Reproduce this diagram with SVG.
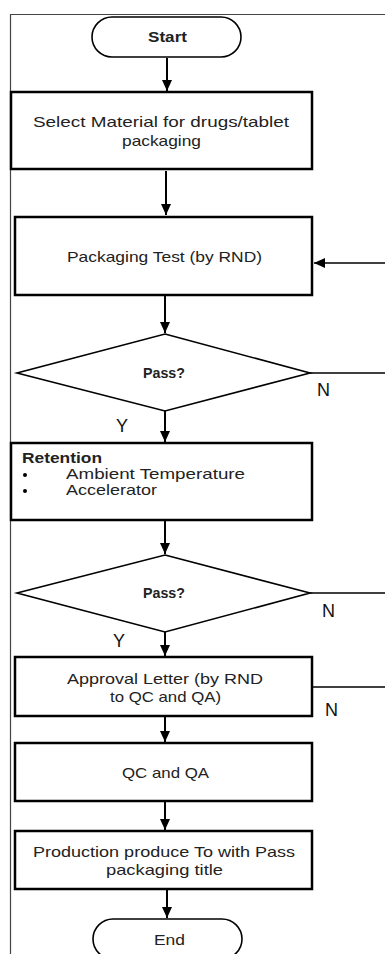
<svg xmlns="http://www.w3.org/2000/svg" width="385" height="954" viewBox="0 0 385 954">
<defs>
<marker id="ah" markerUnits="userSpaceOnUse" markerWidth="12" markerHeight="10" refX="11" refY="5" orient="auto">
<path d="M0,0 L11,5 L0,10 Z" fill="#000"/>
</marker>
<style>
.box{fill:#fff;stroke:#000;stroke-width:2.5}
.dia{fill:#fff;stroke:#000;stroke-width:1.6}
.term{fill:#fff;stroke:#000;stroke-width:1.6}
.t{font-family:"Liberation Sans",Arial,sans-serif;font-size:15px;fill:#222;text-anchor:middle}
.b{font-weight:bold}
.s{text-anchor:start}
.lbl{font-family:"Liberation Sans",Arial,sans-serif;font-size:18px;fill:#111}
.c{stroke:#000;stroke-width:2;fill:none}
.f{stroke:#000;stroke-width:1.3;fill:none}
</style>
</defs>
<rect width="385" height="954" fill="#fff"/>
<g id="frame">
<path d="M10.5,954 L10.5,14.5 L385,14.5" fill="none" stroke="#444" stroke-width="1.2"/>
</g>
<g id="connectors">
<line class="c" x1="167" y1="58" x2="167" y2="91" marker-end="url(#ah)"/>
<line class="c" x1="166" y1="171" x2="166" y2="215" marker-end="url(#ah)"/>
<line class="c" x1="165" y1="296" x2="165" y2="333" marker-end="url(#ah)"/>
<line class="c" x1="165" y1="411" x2="165" y2="442" marker-end="url(#ah)"/>
<line class="c" x1="165" y1="521" x2="165" y2="554" marker-end="url(#ah)"/>
<line class="c" x1="165" y1="632" x2="165" y2="656" marker-end="url(#ah)"/>
<line class="c" x1="165" y1="717" x2="165" y2="742" marker-end="url(#ah)"/>
<line class="c" x1="165" y1="802" x2="165" y2="830" marker-end="url(#ah)"/>
<line class="c" x1="167" y1="890" x2="167" y2="918" marker-end="url(#ah)"/>
<line class="f" x1="385" y1="263" x2="314" y2="263" marker-end="url(#ah)"/>
<line class="f" x1="310" y1="373" x2="385" y2="373"/>
<line class="f" x1="310" y1="593" x2="385" y2="593"/>
<line class="f" x1="313" y1="687" x2="385" y2="687"/>
<text class="lbl" x="317" y="396">N</text>
<text class="lbl" x="116" y="432">Y</text>
<text class="lbl" x="322" y="617">N</text>
<text class="lbl" x="113" y="647">Y</text>
<text class="lbl" x="325" y="716">N</text>
</g>
<g id="start">
<rect class="term" x="92" y="17" width="149" height="40" rx="20" ry="20"/>
<text class="t b" x="167.5" y="42" textLength="39" lengthAdjust="spacingAndGlyphs">Start</text>
</g>
<g id="select">
<rect class="box" x="11" y="92" width="301" height="77"/>
<text class="t" x="161" y="127" textLength="256" lengthAdjust="spacingAndGlyphs">Select Material for drugs/tablet</text>
<text class="t" x="161.5" y="146" textLength="79" lengthAdjust="spacingAndGlyphs">packaging</text>
</g>
<g id="test">
<rect class="box" x="15" y="217" width="297" height="78"/>
<text class="t" x="164.5" y="262" textLength="195" lengthAdjust="spacingAndGlyphs">Packaging Test (by RND)</text>
</g>
<g id="pass1">
<polygon class="dia" points="165,334 310,373 165,411 17,373"/>
<text class="t b" x="164" y="378" textLength="42" lengthAdjust="spacingAndGlyphs">Pass?</text>
</g>
<g id="retention">
<rect class="box" x="11" y="443" width="301" height="77"/>
<text class="t b s" x="22" y="463" textLength="80" lengthAdjust="spacingAndGlyphs">Retention</text>
<circle cx="25" cy="475" r="2"/>
<circle cx="25" cy="491" r="2"/>
<text class="t s" x="66" y="479" textLength="179" lengthAdjust="spacingAndGlyphs">Ambient Temperature</text>
<text class="t s" x="66" y="495" textLength="91" lengthAdjust="spacingAndGlyphs">Accelerator</text>
</g>
<g id="pass2">
<polygon class="dia" points="165,555 310,593 165,632 17,593"/>
<text class="t b" x="164" y="598" textLength="42" lengthAdjust="spacingAndGlyphs">Pass?</text>
</g>
<g id="approval">
<rect class="box" x="15" y="657" width="297" height="59"/>
<text class="t" x="165" y="684" textLength="196" lengthAdjust="spacingAndGlyphs">Approval Letter (by RND</text>
<text class="t" x="165.5" y="702" textLength="111" lengthAdjust="spacingAndGlyphs">to QC and QA)</text>
</g>
<g id="qcqa">
<rect class="box" x="15" y="743" width="297" height="58"/>
<text class="t" x="165.5" y="778" textLength="87" lengthAdjust="spacingAndGlyphs">QC and QA</text>
</g>
<g id="production">
<rect class="box" x="15" y="831" width="297" height="58"/>
<text class="t" x="164" y="857" textLength="262" lengthAdjust="spacingAndGlyphs">Production produce To with Pass</text>
<text class="t" x="164.5" y="875" textLength="117" lengthAdjust="spacingAndGlyphs">packaging title</text>
</g>
<g id="end">
<rect class="term" x="93" y="919" width="149" height="40" rx="20" ry="20"/>
<text class="t" x="169.5" y="945" textLength="31" lengthAdjust="spacingAndGlyphs">End</text>
</g>
</svg>
